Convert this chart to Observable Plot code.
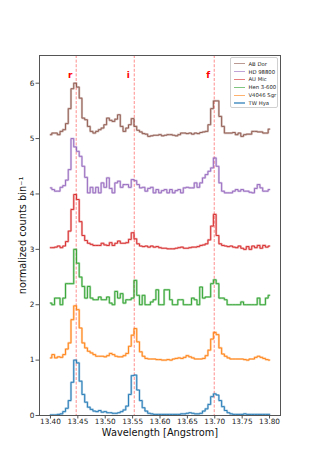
<!DOCTYPE html>
<html>
<head>
<meta charset="utf-8">
<script src="https://cdn.jsdelivr.net/npm/d3@7"></script>
<script src="https://cdn.jsdelivr.net/npm/@observablehq/plot@0.6"></script>
<style>
  html, body { margin: 0; padding: 0; background: #fff; }
  #wrap { position: relative; width: 312px; height: 467px; font-family: "DejaVu Sans", sans-serif; }
  #legend { position: absolute; left: 230px; top: 57px; width: 46px; height: 49px;
    border: 0.8px solid #d0d0d0; border-radius: 2px; background: rgba(255,255,255,0.85); }
  .row { position: absolute; left: 0; height: 8px; width: 46px; }
  .sw { position: absolute; left: 2.5px; top: 3.4px; width: 11px; height: 1.3px; }
  .lb { position: absolute; left: 17.5px; top: 0; font-size: 5.3px; line-height: 8px; color: #222; white-space: nowrap; }
</style>
</head>
<body>
<div id="wrap"></div>
<script>
// Series names, vertical offsets and colours (matplotlib tab10)
const stars = ["TW Hya", "V4046 Sgr", "Hen 3-600", "AU Mic", "HD 98800", "AB Dor"];
const offsets = [0, 1, 2, 3, 4, 5];
const colors = ["#1f77b4", "#ff7f0e", "#2ca02c", "#d62728", "#9467bd", "#8c564b"];

// Wavelength bin grid 13.400 ... 13.800 (81 bins, 0.005 A)
const waveStart = 13.40, waveStep = 0.005, nBins = 81;

// Normalized counts per bin (before vertical offset)
const twHya = [
  0.01,0.01,0.01,0.02,0.03,0.07,0.13,0.27,0.60,1.00,
  0.95,0.62,0.38,0.24,0.15,0.11,0.08,0.07,0.09,0.06,
  0.07,0.05,0.05,0.04,0.04,0.05,0.07,0.10,0.17,0.38,
  0.72,0.73,0.46,0.27,0.14,0.08,0.04,0.03,0.02,0.02,
  0.02,0.02,0.02,0.02,0.02,0.02,0.02,0.02,0.03,0.03,
  0.04,0.05,0.04,0.03,0.03,0.04,0.08,0.12,0.20,0.34,
  0.39,0.37,0.27,0.16,0.09,0.05,0.03,0.02,0.02,0.02,
  0.02,0.03,0.02,0.02,0.02,0.02,0.02,0.02,0.02,0.02,
  0.02];
const v4046 = [
  0.04,0.10,0.04,0.06,0.05,0.10,0.20,0.31,0.73,0.98,
  0.91,0.58,0.31,0.22,0.16,0.13,0.10,0.07,0.07,0.07,
  0.06,0.08,0.12,0.10,0.07,0.06,0.06,0.08,0.12,0.25,
  0.45,0.57,0.33,0.15,0.07,0.03,0.02,0.02,0.02,0.01,
  0.01,0.00,0.00,0.01,0.00,0.02,0.03,0.04,0.03,0.05,
  0.08,0.06,0.04,0.02,0.02,0.02,0.03,0.08,0.18,0.38,
  0.50,0.46,0.22,0.11,0.07,0.04,0.02,0.02,0.02,0.02,
  0.02,0.01,0.00,0.02,0.02,0.05,0.07,0.05,0.03,0.01,
  0.00];
const hen3600 = [
  0.03,0.00,0.12,0.12,0.00,0.12,0.38,0.38,0.38,1.00,
  0.75,0.50,0.33,0.12,0.33,0.12,0.09,0.09,0.14,0.09,
  0.09,0.14,0.03,0.00,0.24,0.12,0.20,0.03,0.09,0.09,
  0.12,0.44,0.17,0.00,0.17,0.00,0.00,0.05,0.09,0.27,
  0.00,0.00,0.27,0.27,0.09,0.00,0.00,0.09,0.09,0.00,
  0.00,0.00,0.12,0.09,0.00,0.32,0.12,0.14,0.14,0.38,
  0.45,0.38,0.12,0.12,0.09,0.00,0.00,0.00,0.00,0.00,
  0.05,0.00,0.00,0.00,0.00,0.00,0.12,0.00,0.00,0.12,
  0.17];
const auMic = [
  0.03,0.03,0.04,0.06,0.03,0.06,0.14,0.33,0.72,0.99,
  0.90,0.50,0.25,0.16,0.11,0.09,0.07,0.07,0.07,0.11,
  0.08,0.07,0.12,0.07,0.11,0.15,0.11,0.11,0.12,0.18,
  0.30,0.19,0.10,0.06,0.05,0.06,0.04,0.06,0.04,0.05,
  0.03,0.02,0.02,0.01,0.01,0.01,0.02,0.03,0.04,0.02,
  0.02,0.03,0.04,0.04,0.05,0.07,0.08,0.10,0.17,0.42,
  0.63,0.25,0.10,0.07,0.06,0.05,0.06,0.04,0.03,0.06,
  0.02,0.00,0.05,0.00,0.06,0.03,0.07,0.02,0.07,0.04,
  0.06];
const hd98800 = [
  0.11,0.08,0.05,0.05,0.12,0.15,0.25,0.44,1.00,0.85,
  0.77,0.68,0.50,0.30,0.02,0.12,0.02,0.12,0.02,0.20,
  0.12,0.29,0.10,0.02,0.20,0.23,0.12,0.17,0.17,0.12,
  0.26,0.24,0.17,0.11,0.12,0.05,0.10,0.12,0.02,0.08,
  0.02,0.06,0.08,0.02,0.08,0.02,0.06,0.08,0.02,0.11,
  0.12,0.11,0.11,0.20,0.12,0.20,0.29,0.35,0.41,0.47,
  0.65,0.50,0.20,0.05,0.02,0.02,0.02,0.05,0.08,0.05,
  0.08,0.05,0.05,0.03,0.02,0.10,0.17,0.11,0.05,0.05,
  0.08];
const abDor = [
  0.07,0.10,0.10,0.07,0.13,0.16,0.27,0.54,0.90,1.00,
  0.93,0.73,0.37,0.34,0.22,0.13,0.10,0.13,0.16,0.19,
  0.25,0.37,0.33,0.31,0.35,0.43,0.22,0.13,0.19,0.25,
  0.36,0.22,0.15,0.12,0.09,0.08,0.04,0.05,0.06,0.06,
  0.07,0.05,0.06,0.07,0.07,0.06,0.05,0.07,0.10,0.10,
  0.09,0.10,0.08,0.10,0.09,0.11,0.12,0.13,0.25,0.54,
  0.68,0.68,0.40,0.22,0.10,0.10,0.10,0.11,0.07,0.10,
  0.04,0.07,0.08,0.08,0.13,0.13,0.12,0.12,0.10,0.10,
  0.17];
const seriesValues = [twHya, v4046, hen3600, auMic, hd98800, abDor];

// He-like triplet line positions and labels
const lineWaves = [13.447, 13.553, 13.699];
const lineLabels = ["r", "i", "f"];

// Tick values
const xTicks = [13.40, 13.45, 13.50, 13.55, 13.60, 13.65, 13.70, 13.75, 13.80];
const yTicks = [0, 1, 2, 3, 4, 5, 6];

// Build long table
const rows = [];
seriesValues.forEach((vals, s) => {
  vals.forEach((v, i) => {
    rows.push({ star: stars[s], wave: +(waveStart + waveStep * i).toFixed(3), value: v + offsets[s] });
  });
});
const lineRows = lineWaves.map((w, k) => ({ wave: w, label: lineLabels[k] }));

const chart = Plot.plot({
  width: 312,
  height: 467,
  marginLeft: 39,
  marginRight: 32,
  marginTop: 55,
  marginBottom: 52,
  style: { fontFamily: "DejaVu Sans, sans-serif", fontSize: "7.3px", background: "transparent", color: "#222" },
  x: { domain: [13.38, 13.82] },
  y: { domain: [0, 6.5] },
  color: { domain: stars, range: colors },
  marks: [
    Plot.ruleX(lineRows, { x: "wave", stroke: "#ff0000", strokeOpacity: 0.45, strokeWidth: 1, strokeDasharray: "3,1.6" }),
    Plot.line(rows, { x: "wave", y: "value", z: "star", stroke: "star", curve: "step", strokeWidth: 2.2, strokeOpacity: 0.35 }),
    Plot.line(rows, { x: "wave", y: "value", z: "star", stroke: "star", curve: "step", strokeWidth: 0.9 }),
    Plot.text(lineRows, { x: "wave", text: "label", frameAnchor: "top", dy: 16, dx: -6, fill: "#ff0000", fontWeight: "bold", fontSize: 9 }),
    Plot.frame({ stroke: "#555", strokeWidth: 1 }),
    Plot.axisX({ ticks: xTicks, tickFormat: d3.format(".2f"), tickSize: 3.5, tickPadding: 0, label: null, stroke: "#555" }),
    Plot.axisY({ ticks: yTicks, tickFormat: d3.format("d"), tickSize: 3.5, tickPadding: 1.5, label: null, stroke: "#555" }),
    Plot.text(["Wavelength [Angstrom]"], { frameAnchor: "bottom", lineAnchor: "middle", textAnchor: "middle", dy: 17.5, text: d => d, fontSize: 9.8, fill: "#111" }),
    Plot.text(["normalized counts bin⁻¹"], { frameAnchor: "left", lineAnchor: "middle", textAnchor: "middle", dx: -17, rotate: -90, text: d => d, fontSize: 9.8, fill: "#111" })
  ]
});

const wrap = document.getElementById("wrap");
wrap.appendChild(chart);

// Legend (top to bottom as in the reference)
const legend = document.createElement("div");
legend.id = "legend";
const legendOrder = [...stars].reverse();
legendOrder.forEach((name, k) => {
  const row = document.createElement("div");
  row.className = "row";
  row.style.top = (1.6 + k * 7.9) + "px";
  const sw = document.createElement("div");
  sw.className = "sw";
  sw.style.background = colors[stars.indexOf(name)];
  sw.style.opacity = "0.6";
  const lb = document.createElement("div");
  lb.className = "lb";
  lb.textContent = name;
  row.appendChild(sw);
  row.appendChild(lb);
  legend.appendChild(row);
});
wrap.appendChild(legend);
</script>
</body>
</html>
